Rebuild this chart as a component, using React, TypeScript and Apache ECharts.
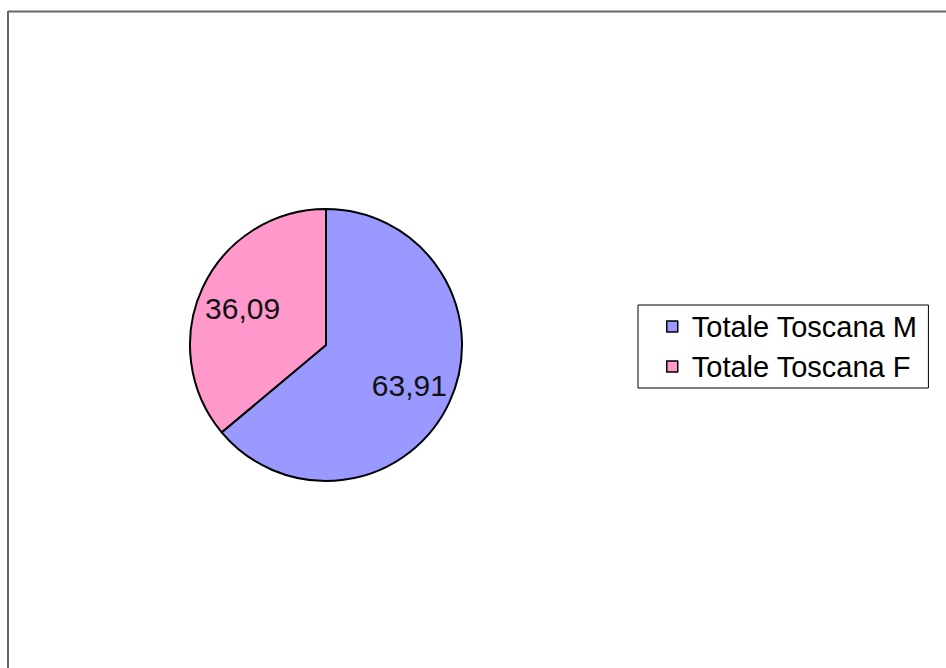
import React, { useEffect, useRef } from "react";
import * as echarts from "echarts";

const categories = ["Totale Toscana M", "Totale Toscana F"];
const values = [63.91, 36.09];
const labels = ["63,91", "36,09"];
const colors = ["#9999FF", "#FF99CC"];

export default function App() {
  const ref = useRef<HTMLDivElement>(null);
  useEffect(() => {
    if (!ref.current) return;
    const chart = echarts.init(ref.current, null, { renderer: "svg" });
    const data = categories.map((name, i) => ({
      name,
      value: values[i],
      itemStyle: { color: colors[i] },
    }));
    const font = "'Liberation Sans', Arial, sans-serif";
    chart.setOption({
      animation: false,
      backgroundColor: "#ffffff",
      legend: {
        orient: "vertical",
        left: 638,
        top: 305,
        data: categories,
        icon: "rect",
        itemWidth: 11,
        itemHeight: 11,
        itemGap: 11,
        padding: [7, 11, 7, 28],
        borderColor: "#000",
        borderWidth: 1,
        backgroundColor: "#fff",
        itemStyle: { borderColor: "#000", borderWidth: 1.5 },
        textStyle: {
          fontFamily: font,
          fontSize: 29,
          color: "#000",
          padding: [0, 0, 0, 9],
        },
      },
      graphic: [
        {
          type: "line",
          shape: { x1: 8, y1: 11.5, x2: 946, y2: 11.5 },
          style: { stroke: "#666", lineWidth: 2 },
          silent: true,
        },
        {
          type: "line",
          shape: { x1: 8, y1: 11, x2: 8, y2: 668 },
          style: { stroke: "#666", lineWidth: 2 },
          silent: true,
        },
      ],
      series: [
        {
          type: "pie",
          center: [326, 345],
          radius: 136,
          startAngle: 90,
          clockwise: true,
          data,
          label: { show: false },
          labelLine: { show: false },
          itemStyle: { borderColor: "#000", borderWidth: 2 },
          emphasis: { disabled: true },
        },
        {
          type: "pie",
          center: [326, 347],
          radius: [0, 178],
          startAngle: 90,
          clockwise: true,
          silent: true,
          legendHoverLink: false,
          data: categories.map((name, i) => ({
            name,
            value: values[i],
            itemStyle: { color: "transparent" },
          })),
          itemStyle: { color: "transparent", borderWidth: 0 },
          label: {
            show: true,
            position: "inside",
            formatter: (p: any) => labels[p.dataIndex],
            fontFamily: font,
            fontSize: 30,
            color: "#111",
          },
          labelLine: { show: false },
          emphasis: { disabled: true },
        },
      ],
    });
    return () => chart.dispose();
  }, []);
  return (
    <div
      ref={ref}
      style={{ position: "fixed", left: 0, top: 0, width: 946, height: 668 }}
    />
  );
}
